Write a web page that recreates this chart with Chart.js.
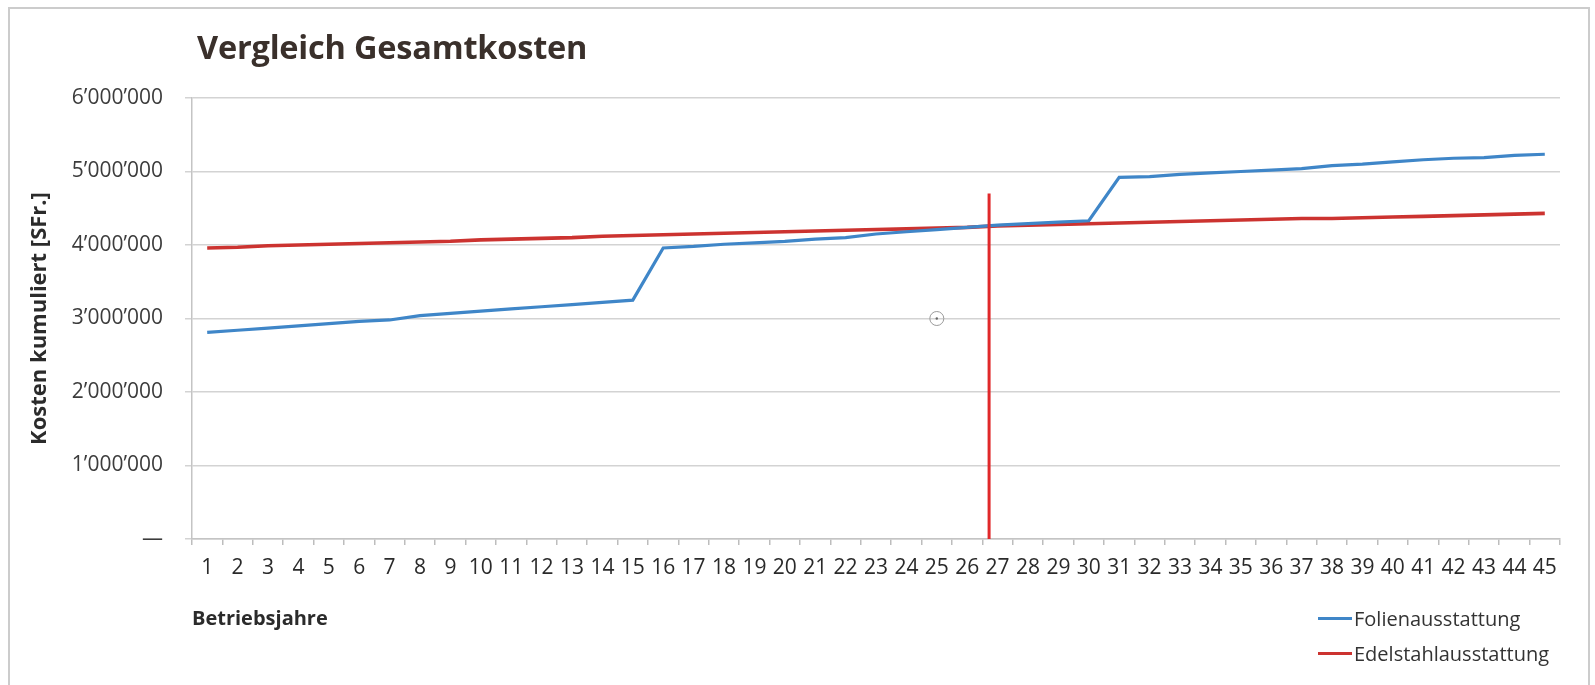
<!DOCTYPE html>
<html>
<head>
<meta charset="utf-8">
<script src="https://cdn.jsdelivr.net/npm/chart.js@4.4.1/dist/chart.umd.min.js"></script>
<style>
  body { margin: 0; background: #fff; font-family: "Open Sans", sans-serif; }
  .frame { position: absolute; left: 8px; top: 7px; width: 1578px; height: 700px; border: 2px solid #cccccc; }
  #wrap { position: absolute; left: 0; top: 0; width: 1595px; height: 685px; }
  .title { position: absolute; left: 197px; top: 24px; font-size: 32.5px; font-weight: 700; color: #3a302b; letter-spacing: -0.2px; }
  #legend { position: absolute; left: 1318px; top: 601px; font-size: 20px; color: #333; }
  #legend .item { display: flex; align-items: center; height: 35px; }
  #legend .swatch { width: 34px; height: 3.5px; margin-right: 2px; }
</style>
</head>
<body>
<div class="frame"></div>
<div id="wrap"><canvas id="chart" width="1595" height="685"></canvas></div>
<div class="title">Vergleich Gesamtkosten</div>
<div id="legend"></div>
<script>
// Betriebsjahre 1..45
const years = ['1','2','3','4','5','6','7','8','9','10','11','12','13','14','15','16','17','18','19','20',
  '21','22','23','24','25','26','27','28','29','30','31','32','33','34','35','36','37','38','39','40',
  '41','42','43','44','45'];

// Kosten kumuliert [SFr.]
const folien = [2810000, 2840000, 2870000, 2900000, 2930000, 2960000, 2980000, 3040000, 3070000, 3100000,
  3130000, 3160000, 3190000, 3220000, 3250000, 3960000, 3980000, 4010000, 4030000, 4050000,
  4080000, 4100000, 4150000, 4180000, 4210000, 4240000, 4270000, 4290000, 4310000, 4330000,
  4920000, 4930000, 4960000, 4980000, 5000000, 5020000, 5040000, 5080000, 5100000, 5130000,
  5160000, 5180000, 5190000, 5220000, 5235000];

const edelstahl = [3960000, 3970000, 3990000, 4000000, 4010000, 4020000, 4030000, 4040000, 4050000, 4070000,
  4080000, 4090000, 4100000, 4120000, 4130000, 4140000, 4150000, 4160000, 4170000, 4180000,
  4190000, 4200000, 4210000, 4220000, 4230000, 4240000, 4260000, 4270000, 4280000, 4290000,
  4300000, 4310000, 4320000, 4330000, 4340000, 4350000, 4360000, 4360000, 4370000, 4380000,
  4390000, 4400000, 4410000, 4420000, 4430000];

const yTicks = [0, 1000000, 2000000, 3000000, 4000000, 5000000, 6000000];

// red break-even marker (year, top value) and the small circle left in the picture
const breakEven = { year: 26.72, top: 4700000 };
const cursorMark = { year: 25, value: 3000000 };

function fmtSwiss(v) {
  if (v === 0) return '—';
  return String(v).replace(/\B(?=(\d{3})+(?!\d))/g, '\u2019');
}

const markerPlugin = {
  id: 'markers',
  afterDatasetsDraw(chart) {
    const { ctx, scales: { x, y } } = chart;
    // small circle
    const cx = x.getPixelForValue(cursorMark.year - 1);
    const cy = y.getPixelForValue(cursorMark.value);
    ctx.save();
    ctx.strokeStyle = '#9a9a9a';
    ctx.lineWidth = 1;
    ctx.beginPath();
    ctx.arc(cx, cy, 7, 0, Math.PI * 2);
    ctx.stroke();
    ctx.fillStyle = '#666';
    ctx.beginPath();
    ctx.arc(cx, cy, 1.2, 0, Math.PI * 2);
    ctx.fill();
    // vertical break-even line
    const bx = x.getPixelForValue(breakEven.year - 1);
    ctx.strokeStyle = '#e0282a';
    ctx.lineWidth = 3;
    ctx.beginPath();
    ctx.moveTo(bx, y.getPixelForValue(breakEven.top));
    ctx.lineTo(bx, y.getPixelForValue(0));
    ctx.stroke();
    ctx.restore();
  }
};

const chart = new Chart(document.getElementById('chart'), {
  type: 'line',
  data: {
    labels: years,
    datasets: [{
      label: 'Folienausstattung',
      data: folien,
      borderColor: '#3f86c8',
      borderWidth: 3.2,
      pointRadius: 0,
      tension: 0
    }, {
      label: 'Edelstahlausstattung',
      data: edelstahl,
      borderColor: '#cc3330',
      borderWidth: 3.6,
      pointRadius: 0,
      tension: 0
    }]
  },
  options: {
    responsive: false,
    animation: false,
    layout: { padding: { left: 0, top: 98, right: 35, bottom: 0 } },
    plugins: {
      legend: { display: false },
      tooltip: { enabled: false }
    },
    scales: {
      x: {
        offset: true,
        afterFit(scale) { scale.height = 146; },
        grid: { offset: true, drawOnChartArea: false, tickLength: 6, color: '#bdbdbd', lineWidth: 1.5 },
        border: { color: '#c4c4c4', width: 1.5 },
        ticks: {
          autoSkip: false, maxRotation: 0, padding: 10,
          color: '#2a2a2a', font: { family: 'Open Sans', size: 21 }
        },
        title: {
          display: true, text: 'Betriebsjahre', align: 'start',
          color: '#2b2b2b', font: { family: 'Open Sans', size: 20, weight: 'bold' },
          padding: { top: 0, bottom: 54 }
        }
      },
      y: {
        min: 0, max: 6000000,
        afterFit(scale) { scale.width = 192; },
        afterBuildTicks(scale) { scale.ticks = yTicks.map(v => ({ value: v })); },
        grid: { color: '#d3d3d3', lineWidth: 1.5, tickLength: 7 },
        border: { color: '#c4c4c4', width: 1.5 },
        ticks: {
          padding: 22, color: '#3c3c3c', font: { family: 'Open Sans', size: 21 },
          callback: v => fmtSwiss(v)
        },
        title: {
          display: true, text: 'Kosten kumuliert [SFr.]',
          color: '#2b2b2b', font: { family: 'Open Sans', size: 22, weight: 'bold' },
          padding: { top: 27, bottom: 0 }
        }
      }
    }
  },
  plugins: [markerPlugin]
});

// legend built from the datasets
const legendEl = document.getElementById('legend');
chart.data.datasets.forEach(ds => {
  const item = document.createElement('div');
  item.className = 'item';
  const sw = document.createElement('span');
  sw.className = 'swatch';
  sw.style.background = ds.borderColor;
  const txt = document.createElement('span');
  txt.textContent = ds.label;
  item.appendChild(sw);
  item.appendChild(txt);
  legendEl.appendChild(item);
});
</script>
</body>
</html>
